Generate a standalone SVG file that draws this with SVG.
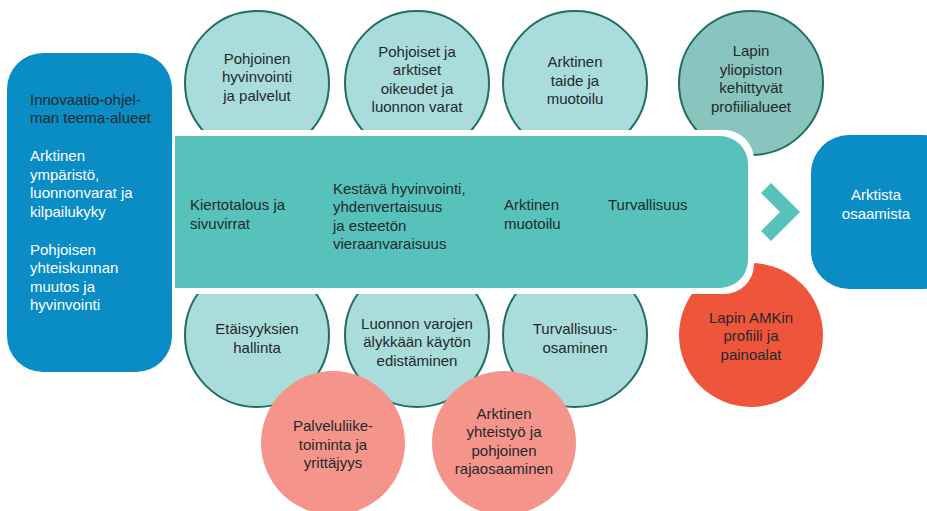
<svg xmlns="http://www.w3.org/2000/svg" width="927" height="511" viewBox="0 0 927 511">
<style>
text{font-family:"Liberation Sans",Arial,sans-serif;font-size:15px;fill:#232a2c}
.c{text-anchor:middle}
.w{fill:#ffffff}
.lt{fill:#a9dcdb;stroke:#1f6e63;stroke-width:2}
.dk{fill:#89c4be;stroke:#1f6e63;stroke-width:2}
.sa{fill:#f4948a}
.rd{fill:#ef553a}
.bl{fill:#0a8cc4}
</style>
<rect width="927" height="511" fill="#ffffff"/>
<g id="top-circles">
<g id="c-pohjoinen"><circle class="lt" cx="257" cy="83" r="72"/>
<text class="c"><tspan x="257" y="64">Pohjoinen</tspan><tspan x="257" y="82">hyvinvointi</tspan><tspan x="257" y="101">ja palvelut</tspan></text></g>
<g id="c-oikeudet"><circle class="lt" cx="417" cy="83" r="72"/>
<text class="c"><tspan x="417" y="57">Pohjoiset ja</tspan><tspan x="417" y="75">arktiset</tspan><tspan x="417" y="94">oikeudet ja</tspan><tspan x="417" y="112">luonnon varat</tspan></text></g>
<g id="c-taide"><circle class="lt" cx="575" cy="83" r="72"/>
<text class="c"><tspan x="575" y="67">Arktinen</tspan><tspan x="575" y="86">taide ja</tspan><tspan x="575" y="104">muotoilu</tspan></text></g>
<g id="c-yliopisto"><circle class="dk" cx="751" cy="83" r="72"/>
<text class="c"><tspan x="751" y="56">Lapin</tspan><tspan x="751" y="75">yliopiston</tspan><tspan x="751" y="93">kehittyvät</tspan><tspan x="751" y="112">profiilialueet</tspan></text></g>
</g>
<g id="bottom-circles">
<g id="c-etaisyys"><circle class="lt" cx="257" cy="335" r="72"/>
<text class="c"><tspan x="257" y="334">Etäisyyksien</tspan><tspan x="257" y="353">hallinta</tspan></text></g>
<g id="c-luonnonvarat"><circle class="lt" cx="417" cy="335" r="72"/>
<text class="c"><tspan x="417" y="329">Luonnon varojen</tspan><tspan x="417" y="347">älykkään käytön</tspan><tspan x="417" y="366">edistäminen</tspan></text></g>
<g id="c-turvallisuus"><circle class="lt" cx="575" cy="335" r="72"/>
<text class="c"><tspan x="575" y="334">Turvallisuus-</tspan><tspan x="575" y="353">osaminen</tspan></text></g>
<g id="c-amk"><circle class="rd" cx="751" cy="335" r="72"/>
<text class="c"><tspan x="751" y="323">Lapin AMKin</tspan><tspan x="751" y="341">profiili ja</tspan><tspan x="751" y="360">painoalat</tspan></text></g>
<g id="c-palvelu"><circle class="sa" cx="333" cy="443" r="72"/>
<text class="c"><tspan x="333" y="431">Palveluliike-</tspan><tspan x="333" y="450">toiminta ja</tspan><tspan x="333" y="468">yrittäjyys</tspan></text></g>
<g id="c-yhteistyo"><circle class="sa" cx="504" cy="443" r="72"/>
<text class="c"><tspan x="504" y="419">Arktinen</tspan><tspan x="504" y="437">yhteistyö ja</tspan><tspan x="504" y="456">pohjoinen</tspan><tspan x="504" y="474">rajaosaaminen</tspan></text></g>
</g>
<g id="left-box">
<rect class="bl" x="7" y="53" width="165" height="319" rx="36"/>
<text><tspan x="30" y="105">Innovaatio-ohjel-</tspan><tspan x="30" y="123">man teema-alueet</tspan></text>
<text class="w"><tspan x="30" y="161">Arktinen</tspan><tspan x="30" y="180">ympäristö,</tspan><tspan x="30" y="198">luonnonvarat ja</tspan><tspan x="30" y="217">kilpailukyky</tspan><tspan x="30" y="255">Pohjoisen</tspan><tspan x="30" y="273">yhteiskunnan</tspan><tspan x="30" y="292">muutos ja</tspan><tspan x="30" y="310">hyvinvointi</tspan></text>
</g>
<g id="band">
<path d="M172 130 H724 A30 30 0 0 1 754 160 V264 A30 30 0 0 1 724 294 H172 Z" fill="#ffffff"/>
<path d="M175 136 H720 A28 28 0 0 1 748 164 V260 A28 28 0 0 1 720 288 H175 Z" fill="#56c2bb"/>
<text><tspan x="190" y="210">Kiertotalous ja</tspan><tspan x="190" y="229">sivuvirrat</tspan></text>
<text><tspan x="333" y="194">Kestävä hyvinvointi,</tspan><tspan x="333" y="212">yhdenvertaisuus</tspan><tspan x="333" y="231">ja esteetön</tspan><tspan x="333" y="249">vieraanvaraisuus</tspan></text>
<text><tspan x="504" y="210">Arktinen</tspan><tspan x="504" y="229">muotoilu</tspan></text>
<text x="608" y="210">Turvallisuus</text>
</g>
<g id="connectors">
<polygon points="771,183 800,212 771,241 761,231 780,212 761,193" fill="#56c2bb"/>
</g>
<g id="right-box">
<rect class="bl" x="811" y="135" width="150" height="154" rx="38"/>
<text class="c w"><tspan x="876" y="200">Arktista</tspan><tspan x="876" y="219">osaamista</tspan></text>
</g>
</svg>
